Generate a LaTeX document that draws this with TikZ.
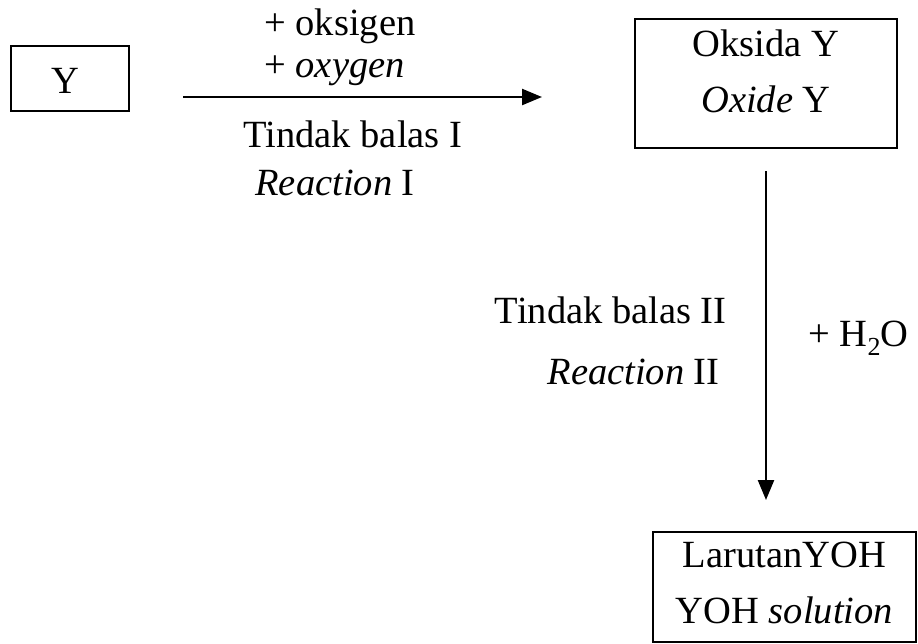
\documentclass[tikz,border=0pt]{standalone}
\usepackage{fontspec}
\setmainfont{Liberation Serif}
\usetikzlibrary{arrows.meta}

\newcommand{\lowsub}[1]{\raisebox{-4.5pt}{\fontsize{13}{13}\selectfont #1}}

\begin{document}
\begin{tikzpicture}[
    x=0.5pt,
    y=-0.5pt,
    every node/.style={
        font=\fontsize{19.25}{28}\selectfont
    },
    chembox/.style={
        draw,
        line width=1.3pt,
        align=center,
        inner xsep=0pt,
        inner ysep=0pt
    },
    rxnlabel/.style={
        inner sep=0pt
    },
    rxnarrow/.style={
        -{Triangle[length=10pt,width=8pt]},
        line width=1.2pt
    }
]
\useasboundingbox[fill=white] (0,0) rectangle (918,644);

% boxes: the struts fix the baselines inside each frame
\node[
    chembox,
    minimum width=59pt
] (elemY) at (70,78.5) {
    \rule{0pt}{23.5pt}Y\rule[-9pt]{0pt}{9pt}
};

\node[
    chembox,
    minimum width=131pt
] (oksida) at (766,83.5) {
    \rule{0pt}{18.5pt}Oksida Y\\
    \textit{Oxide} Y\rule[-18pt]{0pt}{18pt}
};

\node[
    chembox,
    minimum width=131.5pt
] (larutan) at (784.5,587) {
    \rule{0pt}{17.5pt}LarutanYOH\\
    YOH \textit{solution}\rule[-9.5pt]{0pt}{9.5pt}
};

% reaction I
\coordinate (r1start) at (183,97);
\coordinate (r1end) at (542,97);
\draw[rxnarrow] (r1start) -- (r1end);

\node[rxnlabel, anchor=base west] (oksigen) at (264,35) {+ oksigen};
\node[rxnlabel, anchor=base west] (oxygen) at (264,77) {+ \textit{oxygen}};
\node[rxnlabel, anchor=base west] (tbI) at (243,147) {Tindak balas I};
\node[rxnlabel, anchor=base west] (reI) at (255,195) {\textit{Reaction} I};

% reaction II
\draw[rxnarrow, shorten <=10.85pt, shorten >=15.35pt]
    (oksida.south) -- (oksida.south |- larutan.north);

\node[rxnlabel, anchor=base east] (tbII) at (727,323) {Tindak balas II};
\node[rxnlabel, anchor=base east] (reII) at (720,384) {\textit{Reaction} II};
\node[rxnlabel, anchor=base west] (water) at (808,346) {+ H\lowsub{2}O};

\end{tikzpicture}
\end{document}
